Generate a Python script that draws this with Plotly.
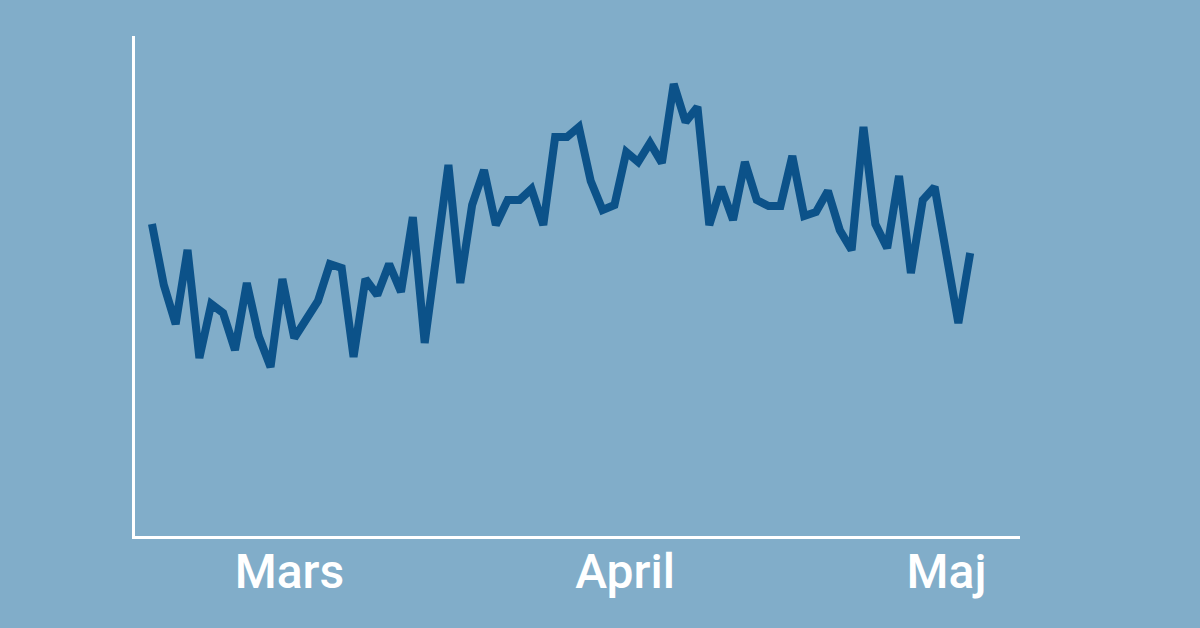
import plotly.graph_objects as go

day_index = list(range(70))
values = [62.4, 50.2, 42.4, 57.2, 35.6, 46.4, 44.6, 37.2, 50.6, 40.0,
          33.8, 51.4, 39.6, 43.0, 47.0, 54.4, 53.6, 35.8, 51.4, 48.2,
          54.4, 48.8, 63.8, 38.6, 55.6, 74.2, 50.6, 66.2, 73.2, 62.2,
          67.2, 67.2, 69.4, 62.2, 79.8, 79.8, 81.8, 71.0, 65.2, 66.2,
          76.8, 74.8, 78.6, 74.6, 90.4, 82.8, 85.8, 62.2, 69.8, 63.2,
          74.8, 67.2, 66.0, 66.0, 76.0, 64.0, 64.8, 69.0, 61.2, 57.2,
          81.8, 62.4, 57.6, 72.0, 52.6, 67.2, 69.8, 56.2, 42.6, 56.6]

month_labels = ["Mars", "April", "Maj"]
month_positions = [11.6, 39.9, 67.0]

BG = "#81ADC9"
LINE = "#0C5289"

fig = go.Figure(
    go.Scatter(
        x=day_index,
        y=values,
        mode="lines",
        line=dict(color=LINE, width=8),
        hoverinfo="skip",
    )
)

fig.update_layout(
    width=1200,
    height=628,
    paper_bgcolor=BG,
    plot_bgcolor=BG,
    margin=dict(l=135, r=180, t=36, b=92),
    showlegend=False,
    xaxis=dict(
        range=[-1.43, 73.2],
        showgrid=False,
        zeroline=False,
        showline=True,
        linecolor="white",
        linewidth=3,
        tickmode="array",
        tickvals=month_positions,
        ticktext=month_labels,
        ticks="",
        ticklabelstandoff=-9,
        tickfont=dict(family="Roboto", size=48, color="white", weight=500),
    ),
    yaxis=dict(
        range=[0, 100],
        showgrid=False,
        zeroline=False,
        showline=True,
        linecolor="white",
        linewidth=3,
        showticklabels=False,
        ticks="",
    ),
)

fig.write_html(
    "out.html",
    config={"displayModeBar": False, "staticPlot": True},
    post_script="document.body.style.margin='0';document.body.style.background='" + BG + "';",
)
